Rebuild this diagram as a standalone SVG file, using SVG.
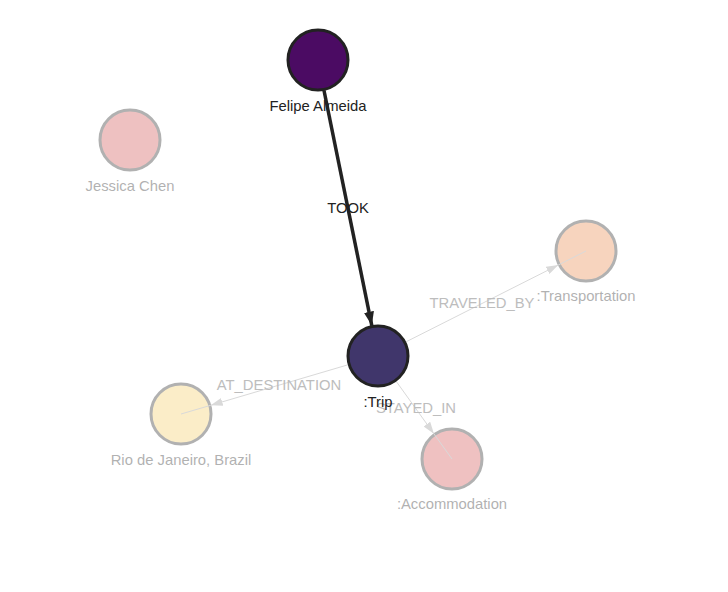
<svg xmlns="http://www.w3.org/2000/svg" width="728" height="592" viewBox="0 0 728 592">
<style>
text{font-family:"Liberation Sans",Arial,sans-serif;font-size:14.8px;text-anchor:middle}
.faded{opacity:0.35}
.node circle{stroke:#222;stroke-width:3}
.lbl{fill:#222}
.elbl{fill:#bdbdbd}
.fe{fill:none;stroke:#d9d9d9;stroke-width:1}
</style>
<defs>
<marker id="ab" viewBox="0 0 14 10" refX="14" refY="5" markerWidth="14" markerHeight="10" markerUnits="userSpaceOnUse" orient="auto"><path d="M0,0 L14,5 L0,10 Z" fill="#222"/></marker>
<marker id="ag" viewBox="0 0 12 8" refX="12" refY="4" markerWidth="12" markerHeight="8" markerUnits="userSpaceOnUse" orient="auto"><path d="M0,0 L12,4 L0,8 Z" fill="#d9d9d9"/></marker>
</defs>
<rect width="728" height="592" fill="#fff"/>
<g id="jessica" class="node faded"><circle cx="130" cy="140" r="30" fill="#d15151"/><text x="130" y="191" class="lbl">Jessica Chen</text></g>
<g id="rio" class="node faded"><circle cx="181" cy="414" r="30" fill="#f4ce65"/><text x="181" y="465" class="lbl">Rio de Janeiro, Brazil</text></g>
<g id="transportation" class="node faded"><circle cx="586" cy="251" r="30" fill="#eb8748"/><text x="586" y="301" class="lbl">:Transportation</text></g>
<g id="accommodation" class="node faded"><circle cx="452" cy="459" r="30" fill="#d45151"/><text x="452" y="509" class="lbl">:Accommodation</text></g>
<g id="felipe" class="node"><circle cx="318" cy="60" r="30" fill="#4b0b63"/><text x="318" y="111" class="lbl">Felipe Almeida</text></g>
<g id="edges">
<path d="M324,90.5 L371.8,325.6" fill="none" stroke="#222" stroke-width="3.5" marker-end="url(#ab)"/>
<text x="348" y="213" class="lbl">TOOK</text>
<path class="fe" d="M405.7,342 L558.3,265 L586,251" marker-mid="url(#ag)"/>
<text x="482" y="308" class="elbl">TRAVELED_BY</text>
<path class="fe" d="M348.3,364.7 L210.7,405.3 L181,414" marker-mid="url(#ag)"/>
<text x="279" y="390" class="elbl">AT_DESTINATION</text>
<path class="fe" d="M396.1,381.2 L433.9,433.8 L452,459" marker-mid="url(#ag)"/>
<text x="416" y="413" class="elbl">STAYED_IN</text>
</g>
<g id="trip" class="node"><circle cx="378" cy="356" r="30" fill="#40366b"/><text x="378" y="407" class="lbl">:Trip</text></g>
</svg>
